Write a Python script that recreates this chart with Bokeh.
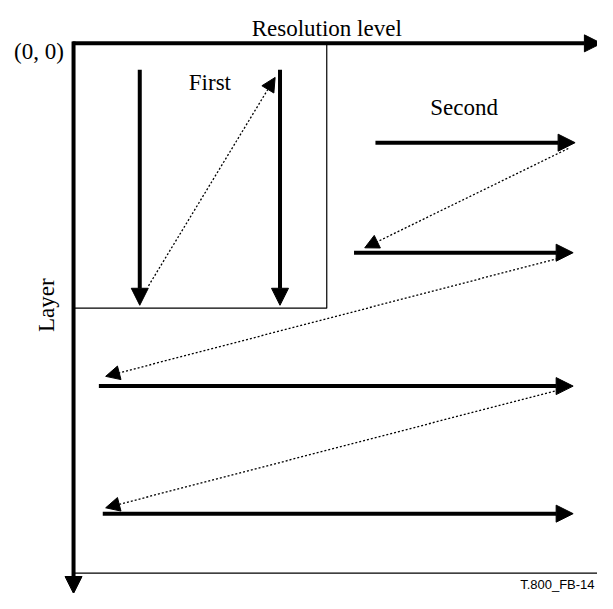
from bokeh.plotting import figure
from bokeh.models import Range1d, Arrow, NormalHead, ColumnDataSource
from bokeh.core.properties import value
from bokeh.embed import file_html
from bokeh.resources import INLINE

# ---- diagram data (coordinates in the reference picture's pixel space) ----
# Axes (solid, thick)
axis_x_start = [74, 75]
axis_y_start = [44, 42]
axis_x_end = [617, 75]
axis_y_end = [44, 609]

# "First" region box
box_x = [75, 335, 335, 75]
box_y = [44, 44, 316, 316]

# First: vertical scan arrows
first_x = [143, 287]
first_y_start = [71, 71]
first_y_end = [313, 313]

# Second: horizontal scan arrows
second_y = [146, 259, 396, 527]
second_x_start = [385, 363, 101, 105]
second_x_end = [590, 588, 588, 588]

# Dotted return arrows
ret_x_start = [152, 583, 576, 577]
ret_y_start = [293, 152, 264, 399]
ret_x_end = [282, 374, 108, 108]
ret_y_end = [79, 254, 386, 521]

# Bottom border line
base_x = [75, 616]
base_y = [588, 588]

# Texts
serif_text = ["Resolution level", "(0, 0)", "First", "Second"]
serif_x = [335, 65, 215, 476]
serif_y = [29, 52, 84, 110]
serif_align = ["center", "right", "center", "center"]

layer_text = ["Layer"]
layer_x = [47]
layer_y = [313]

note_text = ["T.800_FB-14"]
note_x = [610]
note_y = [600]

p = figure(width=597, height=593, x_range=Range1d(0, 613), y_range=Range1d(609, 0),
           output_backend="svg", toolbar_location=None, min_border=0)
p.axis.visible = False
p.grid.visible = False
p.outline_line_color = None
p.background_fill_color = "white"
p.border_fill_color = "white"

# box and baseline
p.line(box_x + [box_x[0]], box_y + [box_y[0]], line_color="black", line_width=1.2)
p.line(base_x, base_y, line_color="black", line_width=1.2)

head = dict(fill_color="black", line_color="black")

# axes
p.add_layout(Arrow(source=ColumnDataSource(dict(xs=axis_x_start, ys=axis_y_start, xe=axis_x_end, ye=axis_y_end)),
                   x_start="xs", y_start="ys", x_end="xe", y_end="ye",
                   line_width=4, line_color="black", end=NormalHead(size=17, **head)))

# first vertical arrows
p.add_layout(Arrow(source=ColumnDataSource(dict(xs=first_x, ys=first_y_start, xe=first_x, ye=first_y_end)),
                   x_start="xs", y_start="ys", x_end="xe", y_end="ye",
                   line_width=4, line_color="black", end=NormalHead(size=17, **head)))

# second horizontal arrows
p.add_layout(Arrow(source=ColumnDataSource(dict(xs=second_x_start, ys=second_y, xe=second_x_end, ye=second_y)),
                   x_start="xs", y_start="ys", x_end="xe", y_end="ye",
                   line_width=4, line_color="black", end=NormalHead(size=17, **head)))

# dotted return arrows
p.add_layout(Arrow(source=ColumnDataSource(dict(xs=ret_x_start, ys=ret_y_start, xe=ret_x_end, ye=ret_y_end)),
                   x_start="xs", y_start="ys", x_end="xe", y_end="ye",
                   line_width=1.3, line_color="black", line_dash="2 2",
                   end=NormalHead(size=14, **head)))

# texts
src = ColumnDataSource(dict(x=serif_x, y=serif_y, t=serif_text, a=serif_align))
p.text(x="x", y="y", text="t", text_align="a", source=src, text_baseline="alphabetic",
       text_font=value("Liberation Serif"), text_font_size="23px", text_color="black")
p.text(x=layer_x, y=layer_y, text=layer_text, angle=1.5708, text_align="center",
       text_baseline="alphabetic", text_font=value("Liberation Serif"),
       text_font_size="23px", text_color="black")
p.text(x=note_x, y=note_y, text=note_text, text_align="right", text_baseline="alphabetic",
       text_font=value("Liberation Sans"), text_font_size="13px", text_color="black")

open("out.html", "w").write(file_html(p, INLINE))
